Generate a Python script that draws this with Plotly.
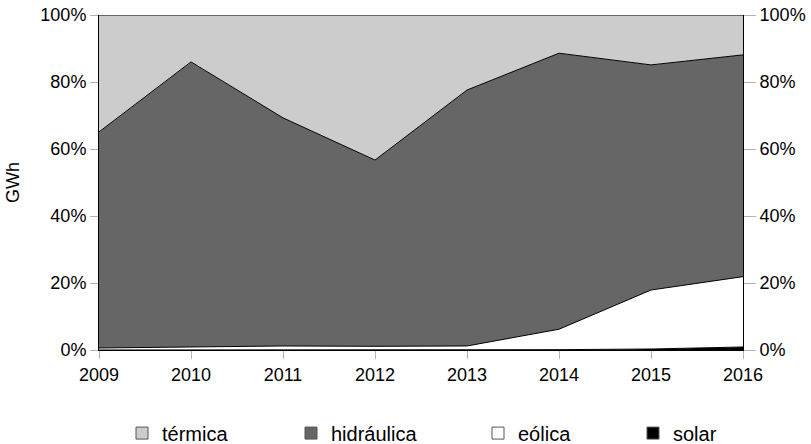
import plotly.graph_objects as go

years = [2009, 2010, 2011, 2012, 2013, 2014, 2015, 2016]
solar = [0.0, 0.0, 0.0, 0.0, 0.0, 0.1, 0.3, 0.9]
eolica = [0.6, 0.8, 1.2, 1.1, 1.2, 6.1, 17.6, 21.0]
hidraulica = [64.5, 85.2, 68.1, 55.6, 76.4, 82.4, 67.2, 66.2]
termica = [round(100 - s - e - h, 1) for s, e, h in zip(solar, eolica, hidraulica)]

series = [
    ("solar", solar, "#000000"),
    ("eólica", eolica, "#ffffff"),
    ("hidráulica", hidraulica, "#666666"),
    ("térmica", termica, "#cccccc"),
]

FONT = "Liberation Sans, Arial, sans-serif"
FS = 18
FS_LEG = 20
fig = go.Figure()
for name, vals, col in series:
    fig.add_trace(go.Scatter(
        x=years, y=vals, name=name, mode="lines", stackgroup="one",
        line=dict(color="#000000", width=1), fillcolor=col, showlegend=False,
        hoverinfo="x+y+name",
    ))

# invisible trace for right axis
fig.add_trace(go.Scatter(x=[years[0]], y=[0], yaxis="y2", mode="markers",
                         marker=dict(opacity=0), showlegend=False, hoverinfo="skip"))

# legend entries (square markers), each in its own legend for positioning
legend_order = [("térmica", "#cccccc"), ("hidráulica", "#666666"),
                ("eólica", "#ffffff"), ("solar", "#000000")]
legend_ids = ["legend", "legend2", "legend3", "legend4"]
legend_px = [143, 312, 499, 654]  # symbol positions in pixels
plot_l, plot_r = 99, 743
layout_legends = {}
for (name, col), lid, px in zip(legend_order, legend_ids, legend_px):
    fig.add_trace(go.Scatter(
        x=[None], y=[None], name=name, mode="markers",
        marker=dict(symbol="square", size=12, color=col,
                    line=dict(color="#555555", width=1)),
        legend=lid, showlegend=True,
    ))
    layout_legends[lid] = dict(
        x=(px - 21 - plot_l) / (plot_r - plot_l), xanchor="left",
        y=-0.248, yanchor="middle", orientation="h",
        font=dict(family=FONT, size=FS_LEG, color="#000000"),
        bgcolor="rgba(0,0,0,0)", borderwidth=0,
    )

axis_common = dict(
    range=[0, 100], tickvals=[0, 20, 40, 60, 80, 100],
    ticktext=["0%", "20%", "40%", "60%", "80%", "100%"],
    showgrid=False, zeroline=False, ticks="outside", tickcolor="#b3b3b3",
    showline=True, linecolor="#000000", linewidth=1,
    tickfont=dict(family=FONT, size=FS, color="#000000"),
)

fig.update_layout(
    width=811, height=444,
    margin=dict(l=99, r=68, t=15, b=94, autoexpand=False),
    paper_bgcolor="#ffffff", plot_bgcolor="#ffffff",
    font=dict(family=FONT, size=FS, color="#000000"),
    xaxis=dict(
        range=[2009, 2016], tickvals=years, ticks="outside", ticklen=8,
        tickcolor="#b3b3b3", showgrid=False, zeroline=False, showline=True,
        linecolor="#000000", linewidth=1,
        tickfont=dict(family=FONT, size=FS, color="#000000"),
    ),
    yaxis=dict(**axis_common, ticklen=8,
               title=dict(text="GWh", font=dict(family=FONT, size=FS), standoff=16)),
    yaxis2=dict(**axis_common, ticklen=12, overlaying="y", side="right"),
    **layout_legends,
)

fig.write_html(
    "out.html",
    config={"displayModeBar": False},
    post_script="document.body.style.margin='0px';document.body.style.overflow='hidden';",
)
